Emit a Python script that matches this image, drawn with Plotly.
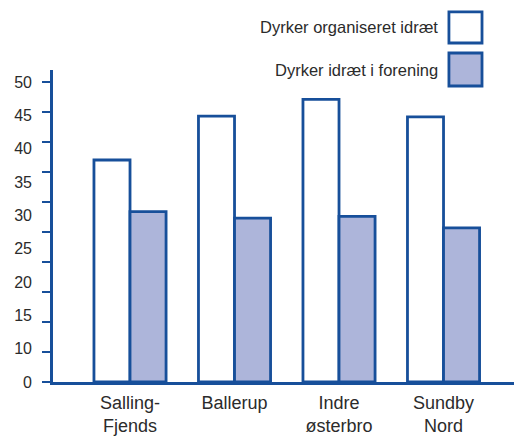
import numpy as np
import plotly.graph_objects as go

categories = ["Salling-<br>Fjends", "Ballerup", "Indre<br>østerbro", "Sundby<br>Nord"]
organiseret = [37.0, 44.3, 47.1, 44.2]
forening = [28.4, 27.3, 27.6, 25.7]
series_names = ["Dyrker organiseret idræt", "Dyrker idræt i forening"]
y_tick_marks = [0, 5, 10, 15, 20, 25, 30, 35, 40, 45, 50]
y_tick_labels = ["0", "10", "15", "20", "25", "30", "35", "40", "45", "50"]

BLUE = "#174f9a"
FILL = "#adb5da"
TXT = "#2b2b2b"
FONT = "Liberation Sans Narrow, Liberation Sans, Arial"

x = list(range(len(categories)))

fig = go.Figure()
fig.add_trace(go.Bar(x=x, y=organiseret, name=series_names[0],
                     marker=dict(color="white", line=dict(color=BLUE, width=2.8))))
fig.add_trace(go.Bar(x=x, y=forening, name=series_names[1],
                     marker=dict(color=FILL, line=dict(color=BLUE, width=2.8))))
# invisible trace to carry overlay axis with labels
fig.add_trace(go.Scatter(x=[x[0]], y=[0], yaxis="y2", mode="markers",
                         marker=dict(opacity=0), showlegend=False, hoverinfo="skip"))

fig.update_layout(
    width=514, height=429,
    margin=dict(l=45, r=7, t=62, b=55),
    paper_bgcolor="white", plot_bgcolor="white",
    barmode="group", bargap=0.31, bargroupgap=0,
    showlegend=False,
    font=dict(family=FONT, size=16, color=TXT),
    xaxis=dict(range=[-0.737, 3.684], tickvals=x, ticktext=categories,
               automargin=False,
               showgrid=False, zeroline=False, showline=True, linecolor=BLUE,
               linewidth=2.8, ticks="", ticklabelstandoff=2,
               tickfont=dict(family=FONT, size=18, color=TXT)),
    yaxis=dict(range=[0, 52], tickvals=y_tick_marks, showticklabels=False,
               automargin=False,
               ticks="outside", ticklen=8, tickwidth=2, tickcolor=BLUE,
               showgrid=False, zeroline=False, showline=True, linecolor=BLUE,
               linewidth=2.8),
    yaxis2=dict(range=[0, 52], overlaying="y", side="left", automargin=False,
                tickvals=list(np.linspace(0, 50, len(y_tick_labels))),
                ticktext=y_tick_labels, ticks="", showgrid=False,
                zeroline=False, showline=False, ticklabelstandoff=20,
                tickfont=dict(family=FONT, size=16, color=TXT)),
)

# legend drawn manually with larger swatches
legend_fills = ["white", FILL]
legend_y = [(1.186, 1.0865), (1.0545, 0.9487)]
for name, fill, (y1, y0) in zip(series_names, legend_fills, legend_y):
    fig.add_shape(type="rect", xref="paper", yref="paper",
                  x0=0.857, x1=0.9286, y0=y0, y1=y1,
                  fillcolor=fill, line=dict(color=BLUE, width=2.8))
    fig.add_annotation(xref="paper", yref="paper", x=0.8377, y=(y0 + y1) / 2,
                       text=name, showarrow=False, xanchor="right", yanchor="middle",
                       font=dict(family=FONT, size=16.5, color=TXT))

fig.write_html("out.html")
